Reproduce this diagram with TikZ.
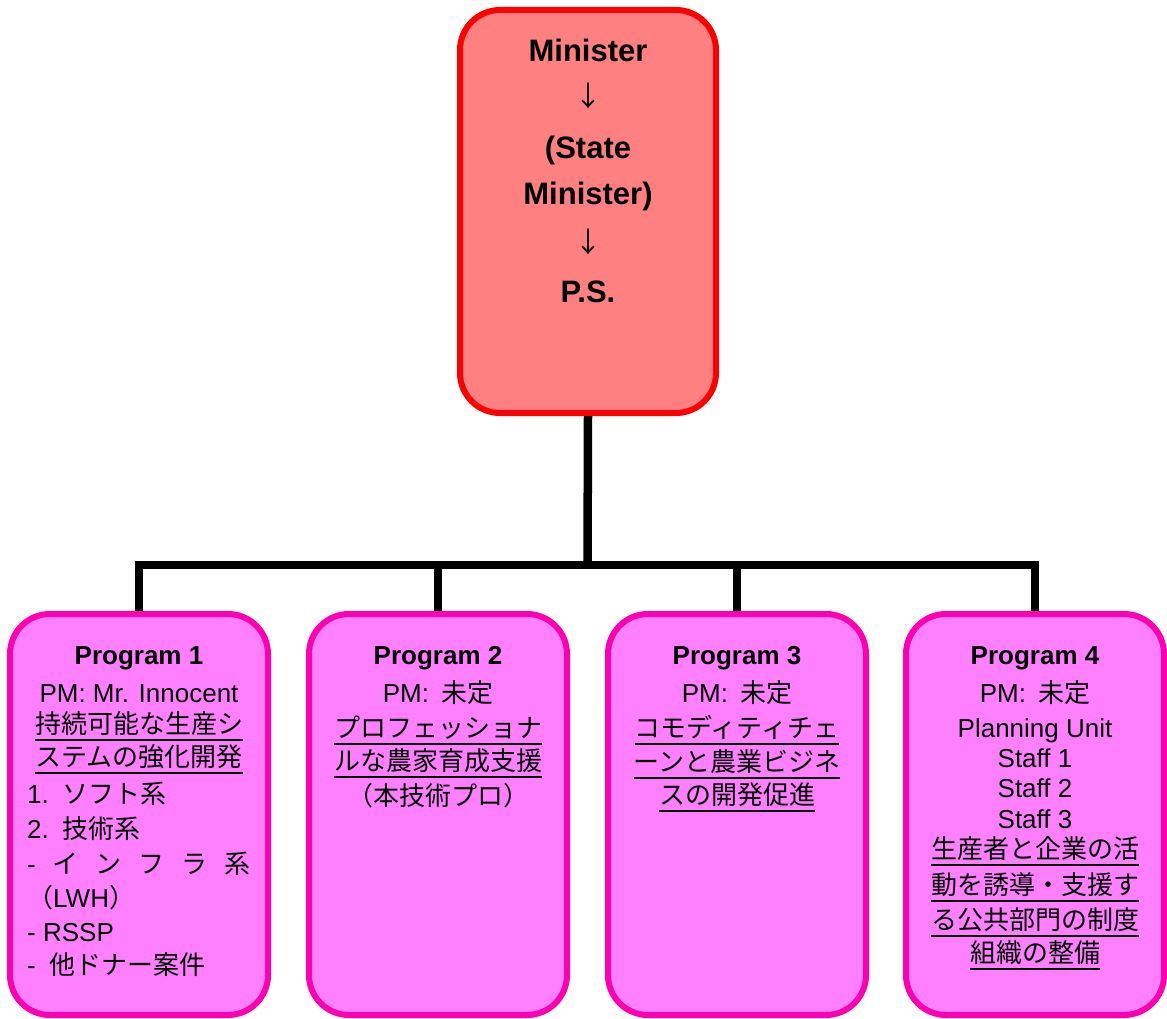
\documentclass[tikz,border=0pt]{standalone}
\usepackage{fontspec}
\usetikzlibrary{backgrounds}
\setmainfont{Liberation Sans}
\newfontfamily\jp{Noto Sans CJK JP}
\newcommand\J[1]{{\jp #1}}
\newsavebox\ulbox
\newcommand\ulj[1]{\sbox\ulbox{\jp #1}\rlap{\rule[-8pt]{\wd\ulbox}{2.2pt}}\usebox\ulbox}
\definecolor{topfill}{HTML}{FF8080}
\definecolor{topline}{HTML}{FF0000}
\definecolor{pfill}{HTML}{FF80FF}
\definecolor{pline}{HTML}{FF00B0}
\begin{document}
\begin{tikzpicture}[x=1pt,y=-1pt,
  topbox/.style={draw=topline,fill=topfill,line width=6pt,rounded corners=40pt,
    minimum width=256pt,minimum height=403pt,inner sep=0pt},
  pbox/.style={draw=pline,fill=pfill,line width=6pt,rounded corners=40pt,
    minimum width=258pt,minimum height=401pt,inner sep=0pt},
  conn/.style={draw=black,line width=8.5pt,line join=miter},
  tl/.style={inner sep=0pt,anchor=base,font=\fontsize{26}{30}\selectfont},
  tll/.style={tl,anchor=base west},
  ttl/.style={tl,font=\fontsize{26}{30}\selectfont\bfseries},
  big/.style={inner sep=0pt,anchor=base,font=\fontsize{31}{36}\selectfont\bfseries},
  arr/.style={inner sep=0pt,anchor=base,font=\fontsize{28}{32}\selectfont\jp}]
\useasboundingbox (0,0) rectangle (1167,1019);
\coordinate (j) at (587.5,565);
\node[topbox] (top) at (588,211.5) {};
\node[pbox] (b1) at (139,814.5) {};
\node[pbox] (b2) at (438,814.5) {};
\node[pbox] (b3) at (737,814.5) {};
\node[pbox] (b4) at (1035,814.5) {};
\begin{scope}[on background layer]
\draw[conn] (top.south) -- (j);
\draw[conn] (b1.north) -- (b1.north |- j) -- (b4.north |- j) -- (b4.north);
\draw[conn] (b2.north |- j) -- (b2.north);
\draw[conn] (b3.north |- j) -- (b3.north);
\end{scope}
% top text
\node[big] (t1) at (588,62) {Minister};
\node[arr] (t2) at (588,107) {↓};
\node[big] (t3) at (588,159) {(State};
\node[big] (t4) at (588,205) {Minister)};
\node[arr] (t5) at (588,252) {↓};
\node[big] (t6) at (588,302) {P.S.};
% program 1
\node[ttl] (p1a) at (139,664) {Program 1};
\node[tl] (p1b) at (139,702) {PM: Mr. Innocent};
\node[tl] (p1c) at (139,733) {\ulj{持続可能な生産シ}};
\node[tl] (p1d) at (139,766) {\ulj{ステムの強化開発}};
\node[tll] (p1e) at (27,803) {1.\hspace{14pt}\J{ソフト系}};
\node[tll] (p1f) at (27,838) {2.\hspace{14pt}\J{技術系}};
\node[tll] (p1g) at (27,873) {\makebox[223pt][l]{-\hfill\J{イ}\hfill\J{ン}\hfill\J{フ}\hfill\J{ラ}\hfill\J{系}}};
\node[tll] (p1h) at (27,907) {\J{（}LWH\J{）}};
\node[tll] (p1i) at (27,941) {- RSSP};
\node[tll] (p1j) at (27,974) {-\hspace{14pt}\J{他ドナー案件}};
% program 2
\node[ttl] (p2a) at (438,664) {Program 2};
\node[tl] (p2b) at (438,702) {PM:\hspace{12pt}\J{未定}};
\node[tl] (p2c) at (438,737) {\ulj{プロフェッショナ}};
\node[tl] (p2d) at (438,770) {\ulj{ルな農家育成支援}};
\node[tl] (p2e) at (438,805) {\J{（本技術プロ）}};
% program 3
\node[ttl] (p3a) at (737,664) {Program 3};
\node[tl] (p3b) at (737,702) {PM:\hspace{12pt}\J{未定}};
\node[tl] (p3c) at (737,737) {\ulj{コモディティチェ}};
\node[tl] (p3d) at (737,771) {\ulj{ーンと農業ビジネ}};
\node[tl] (p3e) at (737,804) {\ulj{スの開発促進}};
% program 4
\node[ttl] (p4a) at (1035,664) {Program 4};
\node[tl] (p4b) at (1035,702) {PM:\hspace{12pt}\J{未定}};
\node[tl] (p4c) at (1035,737) {Planning Unit};
\node[tl] (p4d) at (1035,767) {Staff 1};
\node[tl] (p4e) at (1035,797) {Staff 2};
\node[tl] (p4f) at (1035,828) {Staff 3};
\node[tl] (p4g) at (1035,858) {\ulj{生産者と企業の活}};
\node[tl] (p4h) at (1035,894) {\ulj{動を誘導・支援す}};
\node[tl] (p4i) at (1035,929) {\ulj{る公共部門の制度}};
\node[tl] (p4j) at (1035,962) {\ulj{組織の整備}};
\end{tikzpicture}
\end{document}
